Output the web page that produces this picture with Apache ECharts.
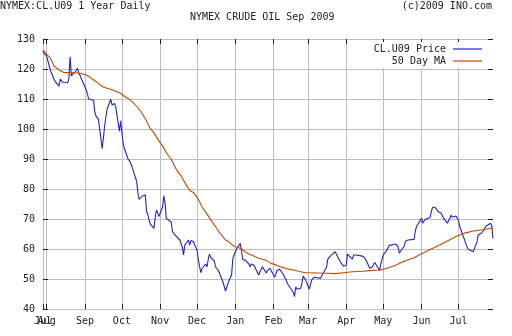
<!DOCTYPE html>
<html><head><meta charset="utf-8">
<script src="https://cdn.jsdelivr.net/npm/echarts@6/dist/echarts.min.js"></script>
<style>html,body{margin:0;padding:0;background:#fff}#c{width:512px;height:336px}</style>
</head><body><div id="c"></div>
<script>
const startDate = '2008-07-29';
const endDate = '2009-07-29';
const holidays = ['2008-09-01','2008-11-27','2008-12-25','2009-01-01','2009-01-19','2009-02-16','2009-04-10','2009-05-25','2009-07-03'];

// daily settle, one value per trading day
const price = [
126.0,125.2,125.5,124.3,
119.5,118.6,119.0,116.5,115.8,
114.3,116.6,116.0,115.5,114.9,
115.4,116.8,124.1,117.7,118.2,
119.5,120.2,118.7,117.9,116.8,
113.2,111.8,110.0,109.8,
109.6,105.8,104.3,104.4,103.2,
93.4,97.0,101.0,104.0,106.6,
109.9,108.0,108.4,108.5,107.4,
99.3,102.7,98.8,95.4,93.5,
90.0,89.5,88.8,87.6,87.1,
82.5,78.5,76.5,76.0,77.5,
78.0,72.5,71.5,69.7,68.4,
66.9,70.5,73.0,72.1,70.8,
74.0,77.7,75.4,70.2,69.6,
69.0,65.8,66.0,64.7,65.0,
63.0,61.8,60.6,58.0,61.3,
63.0,61.3,62.8,62.4,
59.5,56.5,54.1,52.1,53.5,
55.0,54.0,56.5,58.3,57.2,
56.0,54.0,54.1,53.0,52.1,
49.0,47.5,46.0,48.5,
51.5,56.9,58.0,60.0,
61.9,59.5,56.5,56.1,56.3,
55.0,54.1,55.0,55.4,54.7,
51.3,52.4,53.2,54.1,
52.0,52.8,53.2,53.6,53.2,
50.6,51.9,53.0,53.2,53.2,
51.5,50.6,49.9,48.8,48.0,
45.6,44.1,47.4,46.6,
46.9,48.6,51.0,50.6,49.7,
46.6,48.2,49.7,49.4,50.6,
50.4,50.6,50.2,51.0,51.0,
53.9,56.6,57.2,57.6,58.0,
59.1,58.6,57.4,56.9,55.8,
54.2,53.9,54.7,58.3,58.3,
56.6,58.0,58.0,58.0,
57.7,57.4,57.5,57.0,56.3,
53.6,53.6,53.9,54.7,55.5,
53.6,52.8,55.0,56.5,58.0,
59.7,59.9,61.3,61.7,61.3,
61.7,61.3,60.8,58.6,59.1,
61.0,62.6,63.0,63.0,63.0,
63.2,66.0,67.5,68.0,
70.2,68.6,68.2,69.9,70.2,
70.5,72.5,73.9,74.3,73.9,
72.3,71.7,71.9,71.3,70.2,
68.6,69.5,70.2,71.3,70.6,
71.0,71.3,69.5,67.5,
63.0,61.7,60.6,59.9,59.7,
59.1,60.2,61.3,62.2,64.7,
65.4,65.8,66.6,67.5,68.0,
68.6,67.8,63.5
];

// 50 day moving average, read at these dates
const maDates = ['2008-07-29','2008-07-31','2008-08-04','2008-08-07','2008-08-11','2008-08-15','2008-08-21','2008-08-28','2008-09-02','2008-09-05','2008-09-09','2008-09-12','2008-09-16','2008-09-19','2008-09-23','2008-09-26','2008-09-30','2008-10-03','2008-10-06','2008-10-09','2008-10-13','2008-10-16','2008-10-20','2008-10-24','2008-10-27','2008-10-30','2008-11-03','2008-11-07','2008-11-10','2008-11-14','2008-11-18','2008-11-21','2008-11-25','2008-11-28','2008-12-02','2008-12-05','2008-12-09','2008-12-12','2008-12-16','2008-12-19','2008-12-24','2008-12-26','2008-12-30','2009-01-02','2009-01-06','2009-01-09','2009-01-12','2009-01-16','2009-01-20','2009-01-23','2009-01-26','2009-01-30','2009-02-03','2009-02-06','2009-02-10','2009-02-13','2009-02-18','2009-02-23','2009-02-27','2009-03-02','2009-03-16','2009-03-23','2009-03-30','2009-04-06','2009-04-14','2009-04-20','2009-04-28','2009-05-04','2009-05-11','2009-05-18','2009-05-26','2009-06-01','2009-06-08','2009-06-15','2009-06-22','2009-06-29','2009-07-06','2009-07-13','2009-07-20','2009-07-29'];
const maValues = [126.3,125.4,123.6,121.0,119.7,118.8,118.8,118.6,118.0,117.3,116.1,115.2,114.0,113.6,113.1,112.6,111.9,110.9,110.2,109.3,107.5,106.1,103.4,100.2,98.7,96.7,94.3,91.5,90.0,86.6,84.4,82.2,79.5,78.8,76.6,74.1,71.7,69.8,67.4,65.6,63.0,62.6,61.2,60.7,60.1,59.1,58.3,57.7,56.9,56.6,56.2,55.2,54.7,54.1,53.7,53.3,52.9,52.4,52.1,52.1,51.9,51.8,52.1,52.4,52.6,52.8,53.0,53.6,54.6,55.9,57.1,58.4,59.8,61.2,62.7,64.2,65.3,66.0,66.4,67.0];

const monthTicks = ['2008-07-29','2008-08-01','2008-09-01','2008-10-01','2008-11-01','2008-12-01','2009-01-01','2009-02-01','2009-03-01','2009-04-01','2009-05-01','2009-06-01','2009-07-01'];
const monthLabels = ['Jul','Aug','Sep','Oct','Nov','Dec','Jan','Feb','Mar','Apr','May','Jun','Jul'];

const seriesNames = ['CL.U09 Price', '50 Day MA'];
const titleLeft = 'NYMEX:CL.U09 1 Year Daily';
const titleCenter = 'NYMEX CRUDE OIL Sep 2009';
const titleRight = '(c)2009 INO.com';

const DAY = 86400000;
// x values are day numbers (days since 1970-01-01 UTC)
function toDay(s) { const p = s.split('-').map(Number); return Math.round(Date.UTC(p[0], p[1] - 1, p[2]) / DAY); }

const holidayDays = holidays.map(toDay);
const tradingDays = [];
for (let d = toDay(startDate); d <= toDay(endDate); d++) {
  const wd = new Date(d * DAY).getUTCDay();
  if (wd === 0 || wd === 6) continue;
  if (holidayDays.indexOf(d) >= 0) continue;
  tradingDays.push(d);
}
const n = Math.min(tradingDays.length, price.length);
const priceData = [];
for (let i = 0; i < n; i++) priceData.push([tradingDays[i], price[i]]);
const maData = maDates.map((d, i) => [toDay(d), maValues[i]]);
const tickDays = monthTicks.map(toDay);
// the "Aug" label overlaps the "Jul" label at the left edge; draw it from a second bottom axis
const mainLabelDays = tickDays.filter((d, i) => i !== 1);
const sideLabelDays = [tickDays[1]];
function monthFmt(v) { const i = tickDays.indexOf(v); return i >= 0 ? monthLabels[i] : ''; }

const FONT = 'DejaVu Sans Mono';
const TXT = '#222';
const GRID = '#bdbdbd';
const BLUE = '#2222cc';
const ORANGE = '#c84800';
const xMin = toDay(startDate), xMax = toDay(endDate);

const chart = echarts.init(document.getElementById('c'), null, { renderer: 'canvas' });
chart.setOption({
  animation: false,
  backgroundColor: '#fff',
  title: [
    { text: titleLeft, left: 0, top: 1, padding: 0, textStyle: { fontFamily: FONT, fontSize: 10, fontWeight: 'normal', color: TXT } },
    { text: titleCenter, left: 190, top: 12, padding: 0, textStyle: { fontFamily: FONT, fontSize: 10, fontWeight: 'normal', color: TXT } },
    { text: titleRight, right: 20, top: 1, padding: 0, textStyle: { fontFamily: FONT, fontSize: 10, fontWeight: 'normal', color: TXT } }
  ],
  legend: {
    data: seriesNames.map(function (s) { return { name: s, icon: 'rect' }; }),
    orient: 'vertical',
    right: 22, top: 42,
    align: 'right',
    itemWidth: 29, itemHeight: 1.2, itemGap: 0,
    padding: [1, 8, 1, 4],
    backgroundColor: '#fff',
    textStyle: { fontFamily: FONT, fontSize: 10, color: TXT, padding: [0, 2, 0, 0], lineHeight: 12 }
  },
  grid: { left: 43, right: 19, top: 39, bottom: 27, containLabel: false },
  xAxis: [
    {
      type: 'value', position: 'bottom', min: xMin, max: xMax,
      axisLine: { show: true, lineStyle: { color: GRID, width: 1 } },
      axisTick: { show: true, inside: true, length: 5, customValues: tickDays, lineStyle: { color: TXT } },
      axisLabel: {
        show: true, customValues: mainLabelDays, margin: 7, showMinLabel: true, showMaxLabel: true, hideOverlap: false,
        fontFamily: FONT, fontSize: 10, color: TXT, formatter: monthFmt
      },
      splitLine: { show: true, lineStyle: { color: GRID, width: 1 } }
    },
    {
      type: 'value', position: 'top', min: xMin, max: xMax,
      axisLine: { show: false },
      axisTick: { show: true, inside: true, length: 5, customValues: tickDays, lineStyle: { color: TXT } },
      axisLabel: { show: false },
      splitLine: { show: false }
    },
    {
      type: 'value', position: 'bottom', offset: 0, min: xMin, max: xMax,
      axisLine: { show: false },
      axisTick: { show: false, customValues: sideLabelDays },
      axisLabel: {
        show: true, customValues: sideLabelDays, margin: 7, showMinLabel: true, showMaxLabel: true,
        fontFamily: FONT, fontSize: 10, color: TXT, formatter: monthFmt
      },
      splitLine: { show: false }
    }
  ],
  yAxis: [
    {
      type: 'value', position: 'left', min: 40, max: 130, interval: 10,
      axisLine: { show: true, lineStyle: { color: GRID } },
      axisTick: { show: true, inside: true, length: 5, lineStyle: { color: TXT } },
      axisLabel: { margin: 8, fontFamily: FONT, fontSize: 10, color: TXT },
      splitLine: { show: true, lineStyle: { color: GRID, width: 1 } }
    },
    {
      type: 'value', position: 'right', min: 40, max: 130, interval: 10,
      axisLine: { show: false },
      axisTick: { show: true, inside: true, length: 5, lineStyle: { color: TXT } },
      axisLabel: { show: false },
      splitLine: { show: false }
    }
  ],
  series: [
    {
      name: seriesNames[0], type: 'line', data: priceData,
      xAxisIndex: 0, yAxisIndex: 0,
      symbol: 'none', showSymbol: false,
      lineStyle: { color: BLUE, width: 1.1 }, itemStyle: { color: BLUE }, z: 3
    },
    {
      name: seriesNames[1], type: 'line', data: maData,
      xAxisIndex: 0, yAxisIndex: 0,
      symbol: 'none', showSymbol: false,
      lineStyle: { color: ORANGE, width: 1.1 }, itemStyle: { color: ORANGE }, z: 4
    }
  ]
});
</script>
</body></html>
